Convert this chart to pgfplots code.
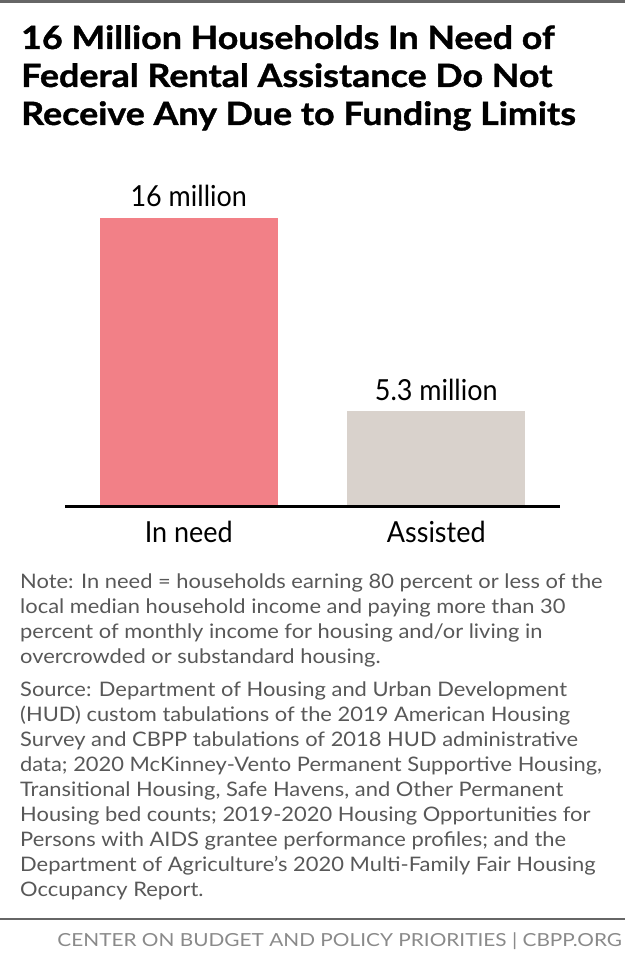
\documentclass[border=0pt]{standalone}
\usepackage{fontspec}
\setmainfont{Lato}
\newfontfamily\condfont[FakeStretch=0.93]{Lato}
\newfontfamily\titlefont[FakeStretch=1.12, BoldFeatures={FakeBold=1.2}]{Lato}
\newfontfamily\notefont[FakeStretch=1.095]{Lato}
\newfontfamily\footfont[FakeStretch=1.156]{Lato}
\usepackage{pgfplots}
\pgfplotsset{compat=1.18}
\definecolor{needpink}{HTML}{F28087}
\definecolor{assistgray}{HTML}{D9D2CC}
\definecolor{notegray}{HTML}{585858}
\definecolor{footgray}{HTML}{8A8A8A}
\definecolor{rulegray}{HTML}{666666}
\begin{document}
\begin{tikzpicture}[x=1pt,y=1pt]
\path[use as bounding box] (0,0) rectangle (625,971);
\fill[rulegray] (0,968) rectangle (625,971);
% title
\begin{scope}[every node/.style={anchor=base west, inner sep=0pt, font=\titlefont\bfseries\fontsize{32}{38}\selectfont}]
\node at (21,922) {16 Million Households In Need of};
\node at (21,884) {Federal Rental Assistance Do Not};
\node at (21,846) {Receive Any Due to Funding Limits};
\end{scope}
\begin{axis}[
  at={(65pt,464pt)}, anchor=south west,
  scale only axis, width=495pt, height=289pt,
  xmin=-0.5, xmax=1.5, ymin=0, ymax=16,
  axis y line=none, axis x line*=bottom,
  x axis line style={line width=3pt, -},
  xtick={0,1}, xticklabels={In need, Assisted},
  major tick length=0pt,
  xticklabel style={anchor=base, yshift=-36pt, font=\condfont\fontsize{29}{34}\selectfont, text=black},
  ytick=\empty,
  axis on top, clip=false,
  ybar, bar width=178pt, bar shift=0pt,
  point meta=explicit symbolic,
  nodes near coords,
  every node near coord/.append style={anchor=base, yshift=11pt, font=\condfont\fontsize{29}{34}\selectfont, text=black, inner sep=0pt},
]
\addplot[fill=needpink, draw=none] coordinates {(0,16) [16 million]};
\addplot[fill=assistgray, draw=none] coordinates {(1,5.3) [5.3 million]};
\end{axis}
% note
\begin{scope}[every node/.style={anchor=base west, inner sep=0pt, text=notegray, font=\notefont\fontsize{20}{25}\selectfont}]
\node at (20,382) {Note: In need = households earning 80 percent or less of the};
\node at (20,357) {local median household income and paying more than 30};
\node at (20,332) {percent of monthly income for housing and/or living in};
\node at (20,307) {overcrowded or substandard housing.};
\node at (20,274) {Source: Department of Housing and Urban Development};
\node at (20,249) {(HUD) custom tabulations of the 2019 American Housing};
\node at (20,224) {Survey and CBPP tabulations of 2018 HUD administrative};
\node at (20,199) {data; 2020 McKinney-Vento Permanent Supportive Housing,};
\node at (20,174) {Transitional Housing, Safe Havens, and Other Permanent};
\node at (20,149) {Housing bed counts; 2019-2020 Housing Opportunities for};
\node at (20,124) {Persons with AIDS grantee performance profiles; and the};
\node at (20,99) {Department of Agriculture’s 2020 Multi-Family Fair Housing};
\node at (20,74) {Occupancy Report.};
\end{scope}
\draw[rulegray, line width=2pt] (0,52) -- (625,52);
\node[anchor=base east, inner sep=0pt, text=footgray, font=\footfont\fontsize{18}{20}\selectfont] at (622,24) {CENTER ON BUDGET AND POLICY PRIORITIES | CBPP.ORG};
\end{tikzpicture}
\end{document}
